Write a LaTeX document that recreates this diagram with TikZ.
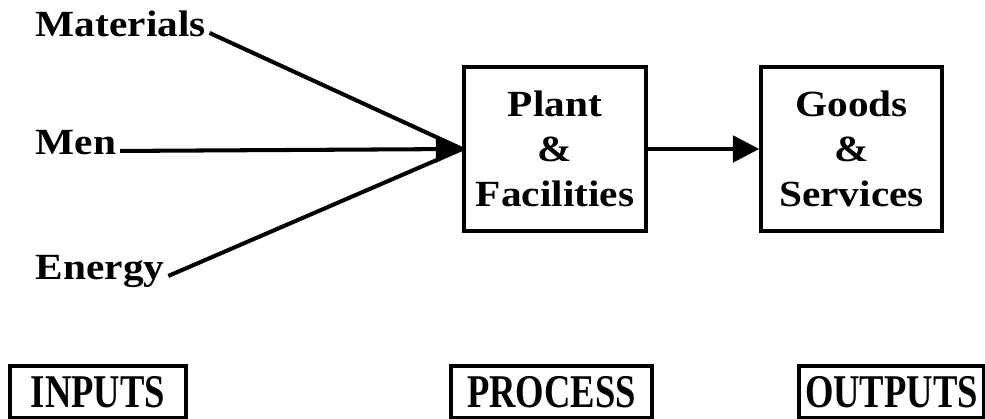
\documentclass[tikz,border=0pt]{standalone}
\usepackage{fontspec}
\setmainfont{Liberation Serif}[FakeStretch=1.12]
\newfontfamily\tagfont{Liberation Serif}[FakeStretch=0.78]
\usepackage{tikz}
\usetikzlibrary{arrows.meta, positioning}

\begin{document}
\begin{tikzpicture}[
    font=\fontsize{21}{25.5}\selectfont\bfseries,
    flowbox/.style={draw, line width=2pt, align=center, minimum height=3.28cm},
    tagbox/.style={draw, line width=1.9pt, minimum height=1.04cm,
        font=\tagfont\fontsize{26.7}{30}\selectfont\bfseries},
    inlabel/.style={anchor=base west, inner sep=2pt},
    flowline/.style={line width=2.3pt},
    flowarrow/.style={flowline, -{Triangle[length=15pt, width=15pt]}}
]
% Column positions
\def\colIn{0.64}    % input labels
\def\colP{11.1}     % process
\def\colO{17.03}    % outputs

% Row positions
\def\rowMat{7.64}   % Materials
\def\rowMen{5.28}   % Men
\def\rowEn{2.78}    % Energy
\def\rowBox{5.4}    % boxes
\def\rowTag{0.54}   % bottom tags

\useasboundingbox (0,0) rectangle (19.7,8.38);

% Inputs
\node[inlabel] (materials) at (\colIn,\rowMat) {Materials};
\node[inlabel] (men) at (\colIn,\rowMen) {Men};
\node[inlabel] (energy) at (\colIn,\rowEn) {Energy};

% Process and outputs
\node[flowbox, minimum width=3.64cm] (plant) at (\colP,\rowBox) {Plant\\\&\\Facilities};
\node[flowbox, minimum width=3.62cm] (goods) at (\colO,\rowBox) {Goods\\\&\\Services};

% Connectors (one shared head on the middle line)
\draw[flowline] (materials.mid east) -- (plant.west);
\draw[flowline] (energy.mid east) -- (plant.west);
\draw[flowarrow] (men.mid east) -- (plant.west);
\draw[flowarrow] (plant.east) -- (goods.west);

% Bottom tags
\node[tagbox, minimum width=3.52cm] (inputs) at (1.96,\rowTag) {INPUTS};
\node[tagbox, minimum width=4.02cm] (process) at (11.03,\rowTag) {PROCESS};
\node[tagbox, minimum width=3.7cm] (outputs) at (17.83,\rowTag) {OUTPUTS};

\end{tikzpicture}
\end{document}
